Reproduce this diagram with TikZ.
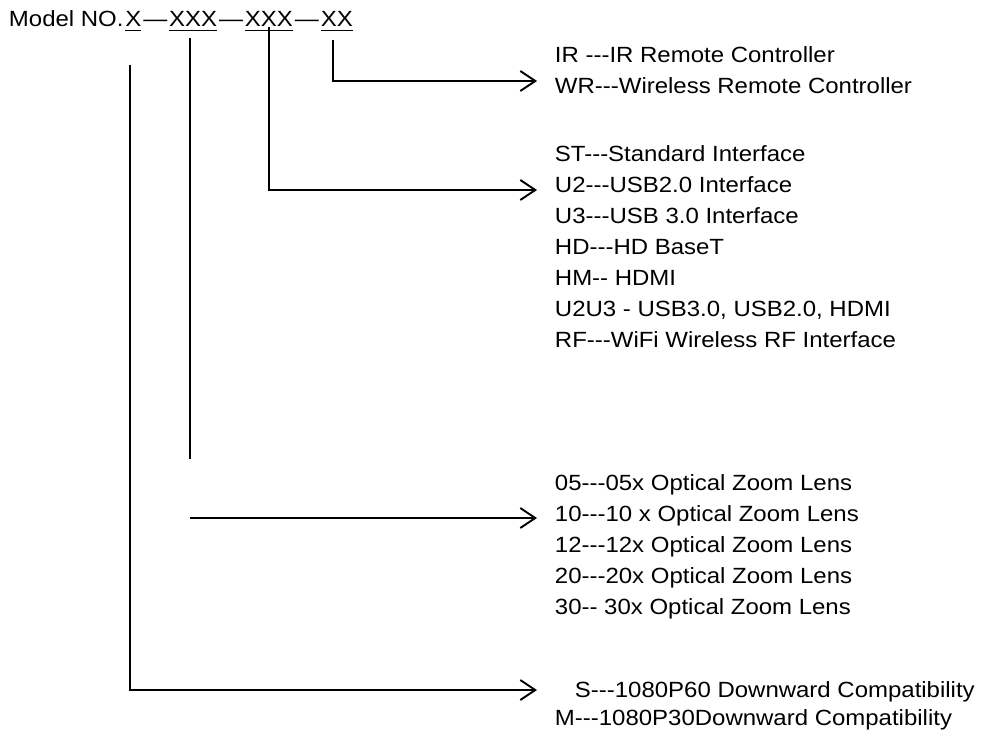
\documentclass[tikz,border=0pt]{standalone}
\usepackage{fontspec}
\setmainfont{Liberation Sans}[FakeStretch=1.09,Ligatures=TeXOff]
\usetikzlibrary{arrows.meta}
\newcommand\codeul[1]{\vtop{\hbox{#1}\kern3pt\hrule height1.2pt}}
\begin{document}
\begin{tikzpicture}[x=1pt,y=-1pt,line width=1.9pt,
  item/.style={font=\fontsize{22}{26}\selectfont,inner sep=0pt,anchor=base west},
  arr/.style={-{Straight Barb[length=15pt,width=20pt]}}]
\useasboundingbox (0,0) rectangle (981,733);
% model number
\node[item] (model) at (8,27) {Model NO.};
\node[item] (cx) at (model.base east) {\codeul{X}};
\node[item] (d1) at (cx.base east) {—};
\node[item] (ca) at (d1.base east) {\codeul{XXX}};
\node[item] (d2) at (ca.base east) {—};
\node[item] (cb) at (d2.base east) {\codeul{XXX}};
\node[item] (d3) at (cb.base east) {—};
\node[item] (cc) at (d3.base east) {\codeul{XX}};
% option lists
\foreach \t [count=\i] in {IR ---IR Remote Controller,WR---Wireless Remote Controller}
  \node[item] (rc\i) at (554,32+31*\i) {\t};
\foreach \t [count=\i] in {ST---Standard Interface,U2---USB2.0 Interface,U3---USB 3.0 Interface,
  HD---HD BaseT,HM-- HDMI,{U2U3 - USB3.0, USB2.0, HDMI},RF---WiFi Wireless RF Interface}
  \node[item] (if\i) at (554,130+31*\i) {\t};
\foreach \t [count=\i] in {05---05x Optical Zoom Lens,10---10 x Optical Zoom Lens,12---12x Optical Zoom Lens,
  20---20x Optical Zoom Lens,30-- 30x Optical Zoom Lens}
  \node[item] (zl\i) at (554,459+31*\i) {\t};
\node[item] (cs) at (574,697) {S---1080P60 Downward Compatibility};
\node[item] (cm) at (554,725) {M---1080P30Downward Compatibility};
% drops and arrows
\coordinate (x-top) at ([shift={(-3.5pt,-38pt)}]cx.base);
\coordinate (xxx1-top) at ([shift={(-3.5pt,-11pt)}]ca.base);
\coordinate (xxx2-top) at (cb.base);
\coordinate (xx-top) at ([shift={(-3.5pt,-13pt)}]cc.base);
\coordinate (rc-tip) at ([shift={(-17pt,13pt)}]rc2.base west);
\coordinate (if-tip) at ([shift={(-17pt,2pt)}]if2.base west);
\coordinate (zl-tip) at ([shift={(-17pt,3pt)}]zl2.base west);
\coordinate (cs-tip) at ([shift={(-37pt,7pt)}]cs.base west);
\draw[arr] (xx-top) |- (rc-tip);
\draw[arr] (xxx2-top) |- (if-tip);
\draw (xxx1-top) -- ++(0,421);
\draw[arr] (xxx1-top |- zl-tip) -- (zl-tip);
\draw[arr] (x-top) |- (cs-tip);
\end{tikzpicture}
\end{document}
